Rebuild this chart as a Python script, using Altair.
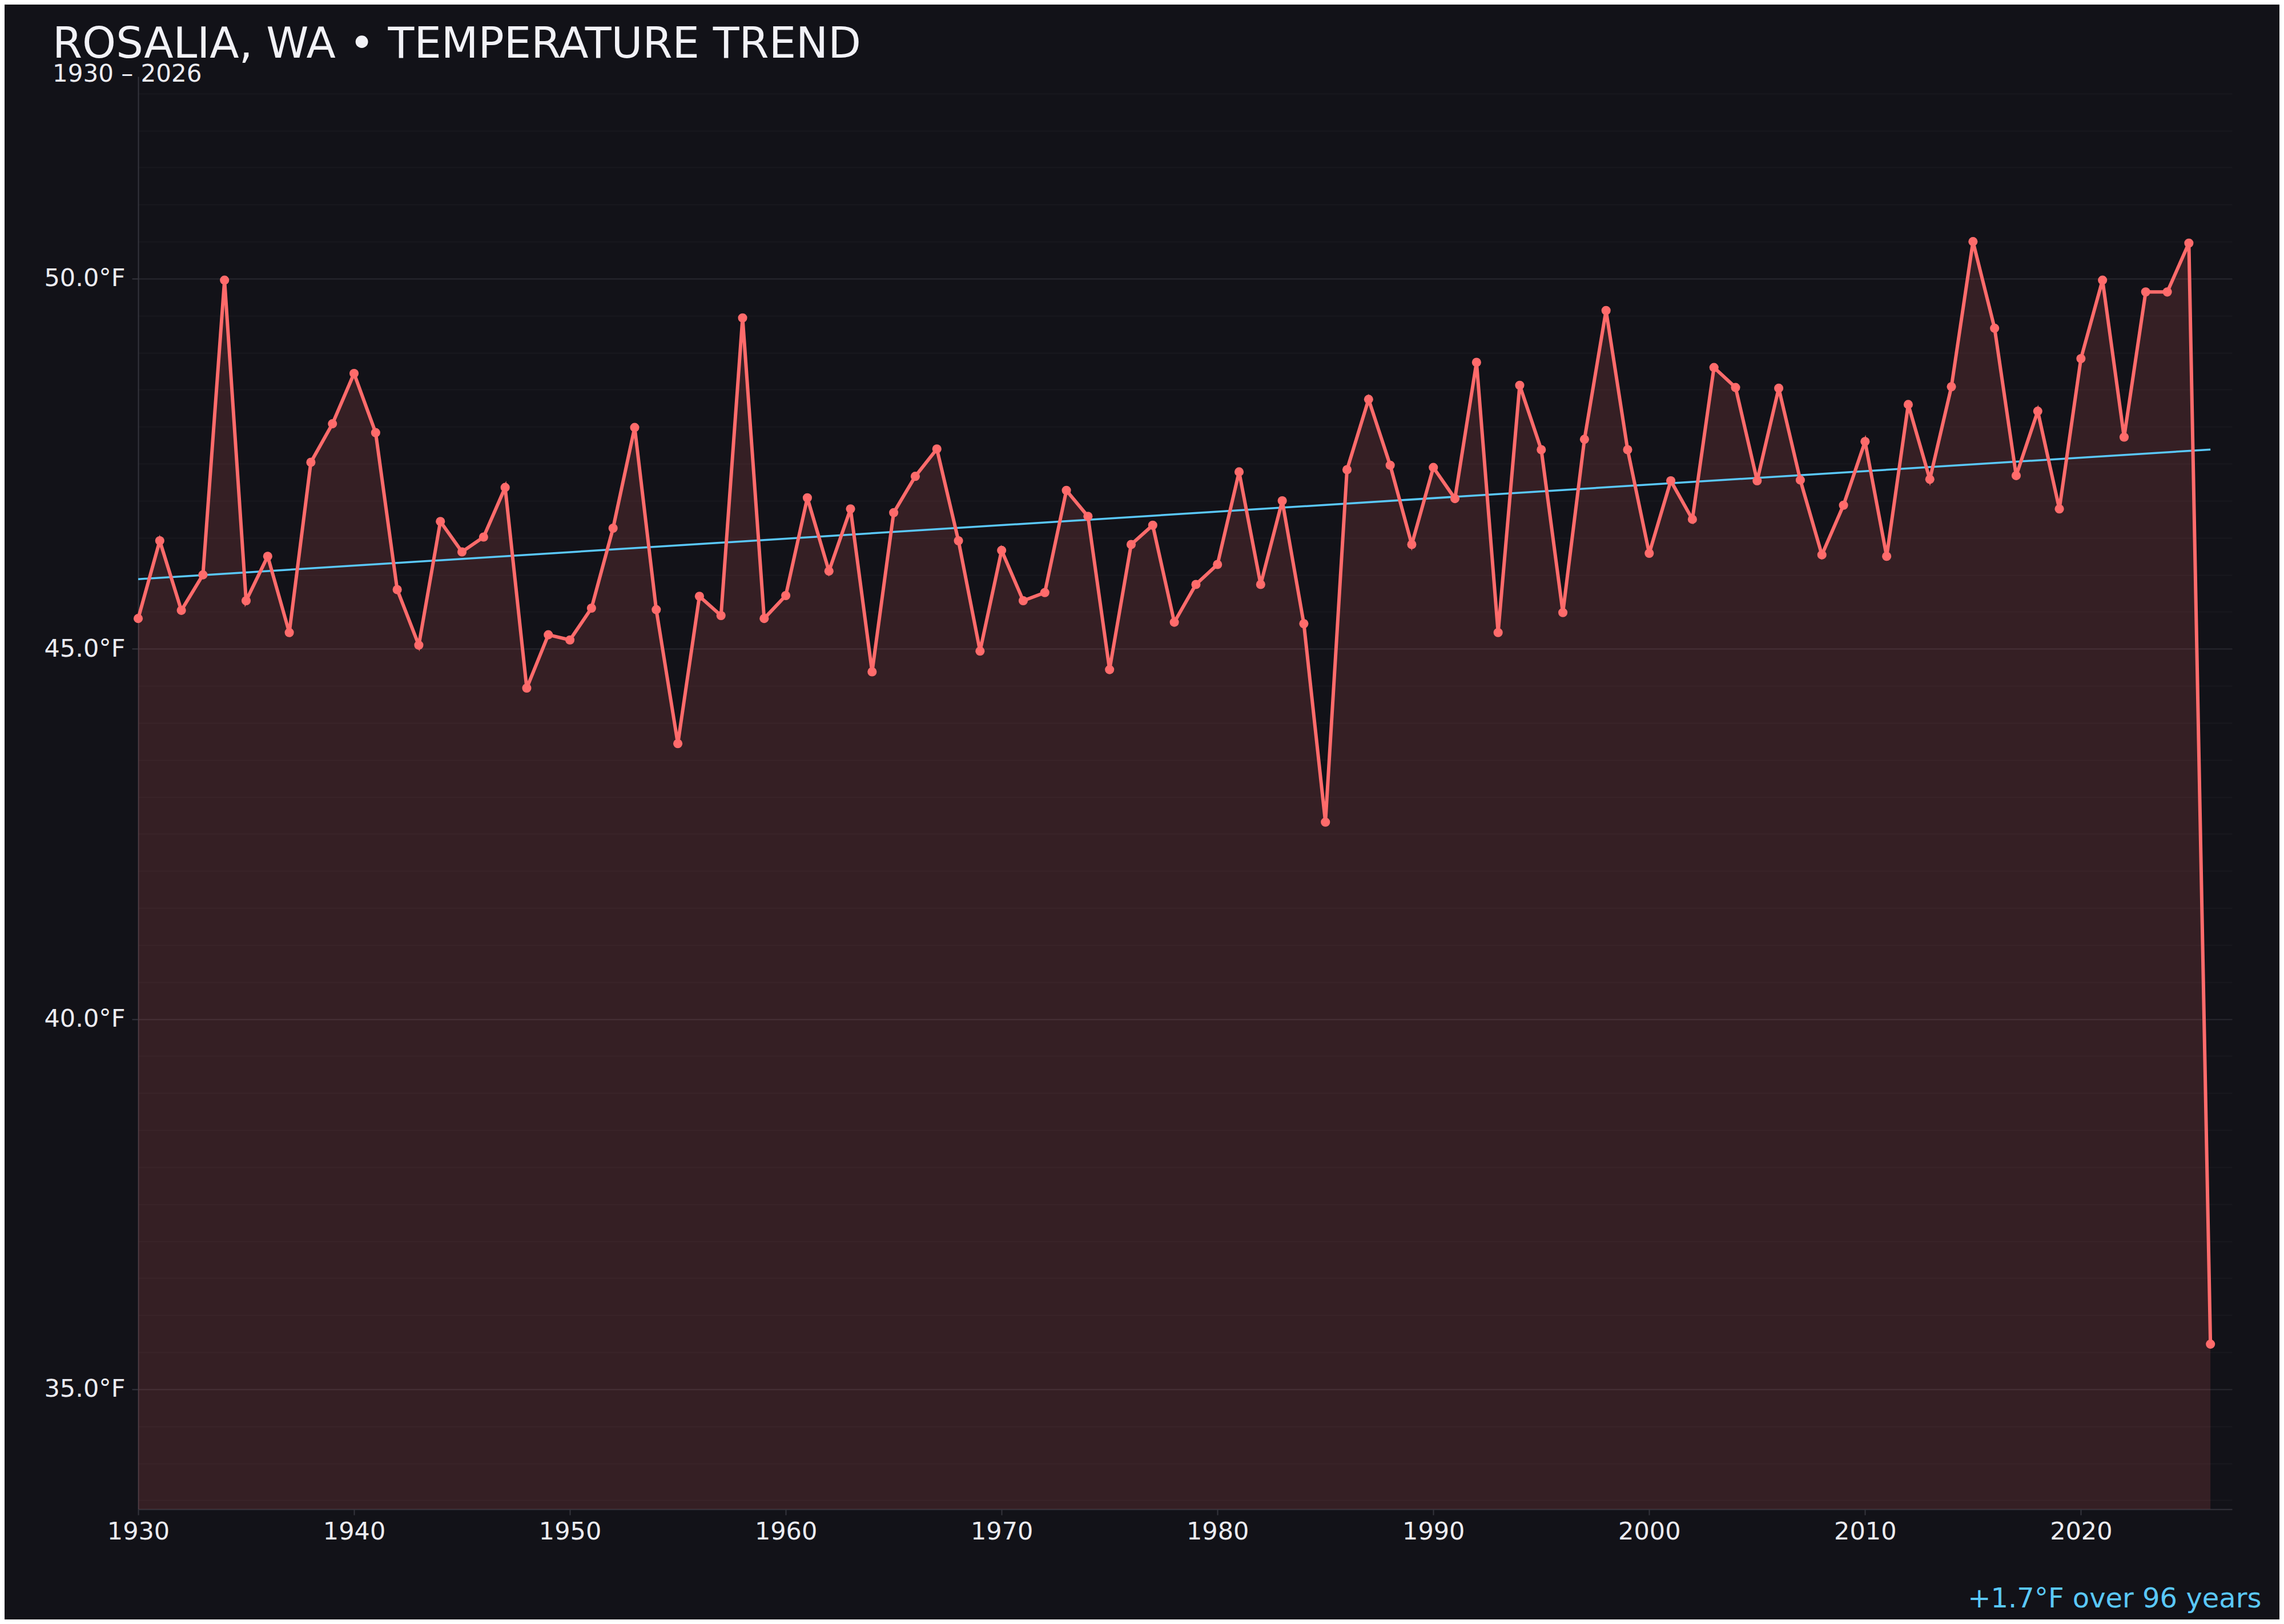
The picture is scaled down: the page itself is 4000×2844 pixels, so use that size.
import altair as alt
import pandas as pd

# ---- data ----
years = list(range(1930, 2027))
temps = [
    45.41, 46.46, 45.52, 46.00, 49.98, 45.65, 46.25, 45.22, 47.52, 48.04,  # 1930s
    48.72, 47.92, 45.80, 45.05, 46.72, 46.31, 46.51, 47.18, 44.47, 45.19,  # 1940s
    45.12, 45.55, 46.63, 47.99, 45.53, 43.72, 45.71, 45.45, 49.47, 45.41,  # 1950s
    45.72, 47.04, 46.05, 46.89, 44.69, 46.84, 47.33, 47.70, 46.46, 44.97,  # 1960s
    46.33, 45.65, 45.76, 47.14, 46.79, 44.72, 46.41, 46.67, 45.36, 45.87,  # 1970s
    46.14, 47.39, 45.87, 47.00, 45.34, 42.66, 47.42, 48.37, 47.48, 46.41,  # 1980s
    47.45, 47.03, 48.87, 45.22, 48.56, 47.69, 45.49, 47.83, 49.57, 47.69,  # 1990s
    46.29, 47.27, 46.75, 48.80, 48.53, 47.27, 48.52, 47.28, 46.27, 46.94,  # 2000s
    47.80, 46.25, 48.30, 47.29, 48.54, 50.50, 49.33, 47.34, 48.21, 46.89,  # 2010s
    48.92, 49.98, 47.86, 49.82, 49.82, 50.48, 35.61,                       # 2020s
]
title_text = "ROSALIA, WA \u2022 TEMPERATURE TREND"
subtitle_text = "1930 \u2013 2026"
note_text = "+1.7\u00b0F over 96 years"
x_ticks = [1930, 1940, 1950, 1960, 1970, 1980, 1990, 2000, 2010, 2020]
y_grid = [v / 2 for v in range(67, 106)]  # every 0.5 °F, labelled every 5
x_domain = [1930, 2027]
y_domain = [33.38, 52.73]

df = pd.DataFrame({"year": years, "temp": temps})

RED = "#ff6b6b"
BLUE = "#5ac8fa"
BG = "#121218"
TXT = "#ececf1"
AXC = "#34343c"
FONT = "DejaVu Sans"

W, H = 3667, 2509

x_enc = alt.X(
    "year:Q",
    scale=alt.Scale(domain=x_domain, nice=False, zero=False),
    axis=alt.Axis(
        values=x_ticks, format="d", grid=False,
        labelFontSize=43, labelColor=TXT, labelPadding=8, labelFlush=False,
        tickSize=10, tickColor=AXC, tickWidth=2, domainColor=AXC, domainWidth=2,
        title=note_text, titleColor=BLUE, titleFontSize=48, titleFontWeight="normal",
        titleAnchor="end", titleAlign="right", titleBaseline="alphabetic",
        titleX=W + 51, titleY=171,
    ),
)
y_enc = alt.Y(
    "temp:Q",
    scale=alt.Scale(domain=y_domain, nice=False, zero=False),
    axis=alt.Axis(
        values=y_grid, title=None, grid=True,
        labelExpr="datum.value % 5 === 0 ? format(datum.value, '.1f') + '\u00b0F' : ''",
        labelOverlap=False, labelFlush=False,
        labelFontSize=43, labelColor=TXT, labelPadding=12,
        gridColor={"condition": {"test": "datum.value % 5 === 0", "value": "#27272e"}, "value": "#18181e"},
        gridWidth=2,
        tickOpacity={"condition": {"test": "datum.value % 5 === 0", "value": 1}, "value": 0},
        tickSize=11, tickColor=AXC, tickWidth=2, domainColor=AXC, domainWidth=2,
    ),
)

base = alt.Chart(df).encode(x=x_enc, y=y_enc)

area = base.mark_area(color=RED, opacity=0.15, clip=True)
trend = base.transform_regression("year", "temp").mark_line(color=BLUE, strokeWidth=3.5)
line = base.mark_line(color=RED, strokeWidth=6)
pts = base.mark_circle(color=RED, size=260, opacity=1)

chart = (
    alt.layer(area, trend, line, pts)
    .properties(
        width=W, height=H,
        padding={"left": 234, "top": 126, "right": 83, "bottom": 193},
        autosize=alt.AutoSizeParams(type="none"),
        title=alt.TitleParams(
            text=title_text, subtitle=subtitle_text,
            anchor="start", frame="group", dx=-150, offset=-18,
            font=FONT, fontSize=75, fontWeight="normal", color="#f2f2f7",
            subtitleFont=FONT, subtitleFontSize=42, subtitleColor=TXT, subtitlePadding=-7,
        ),
    )
    .configure(background=BG, font=FONT)
    .configure_view(stroke=None)
)

chart.save("out.html", embed_options={"renderer": "svg", "actions": False})
